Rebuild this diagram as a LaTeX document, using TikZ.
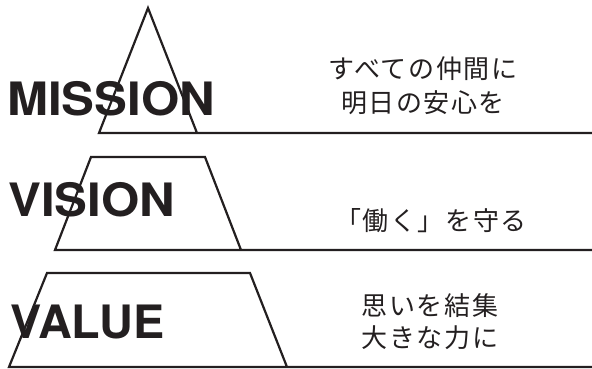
\documentclass[tikz,border=0pt]{standalone}
\usepackage{fontspec}
\setmainfont{TeX Gyre Heros}
\newfontfamily\jpfont[LetterSpace=6]{Noto Sans CJK JP}
\definecolor{ink}{RGB}{35,31,32}
\begin{document}
\begin{tikzpicture}[x=1pt,y=-1pt,
  outline/.style={draw=ink, line width=2.2pt, line join=miter},
  title/.style={font=\bfseries\fontsize{46}{46}\selectfont, text=ink, inner sep=0pt, anchor=base west, xscale=1.07},
  jp/.style={font=\jpfont\fontsize{26}{26}\selectfont, text=ink, inner sep=0pt, anchor=base}]
\useasboundingbox (0,0) rectangle (592,369);
% texts
\node[title] (mission) at (7,115) {MISSION};
\node[title] (vision) at (8,216.5) {VISION};
\node[title, xscale=0.95] (value) at (10,338) {VALUE};
\node[jp] (m1) at (423,78) {すべての仲間に};
\node[jp] (m2) at (423,112) {明日の安心を};
\node[jp] (v1) at (431,230) {「働く」を守る};
\node[jp] (a1) at (430,315) {思いを結集};
\node[jp] (a2) at (430,347.5) {大きな力に};
% shapes
\draw[outline] (592,133) -- (99,133) -- (148,8) -- (197,133);
\draw[outline] (592,250) -- (55,250) -- (91,157) -- (205,157) -- (241,250);
\draw[outline] (592,367) -- (9,367) -- (47,273) -- (250,273) -- (287,367);
\end{tikzpicture}
\end{document}
